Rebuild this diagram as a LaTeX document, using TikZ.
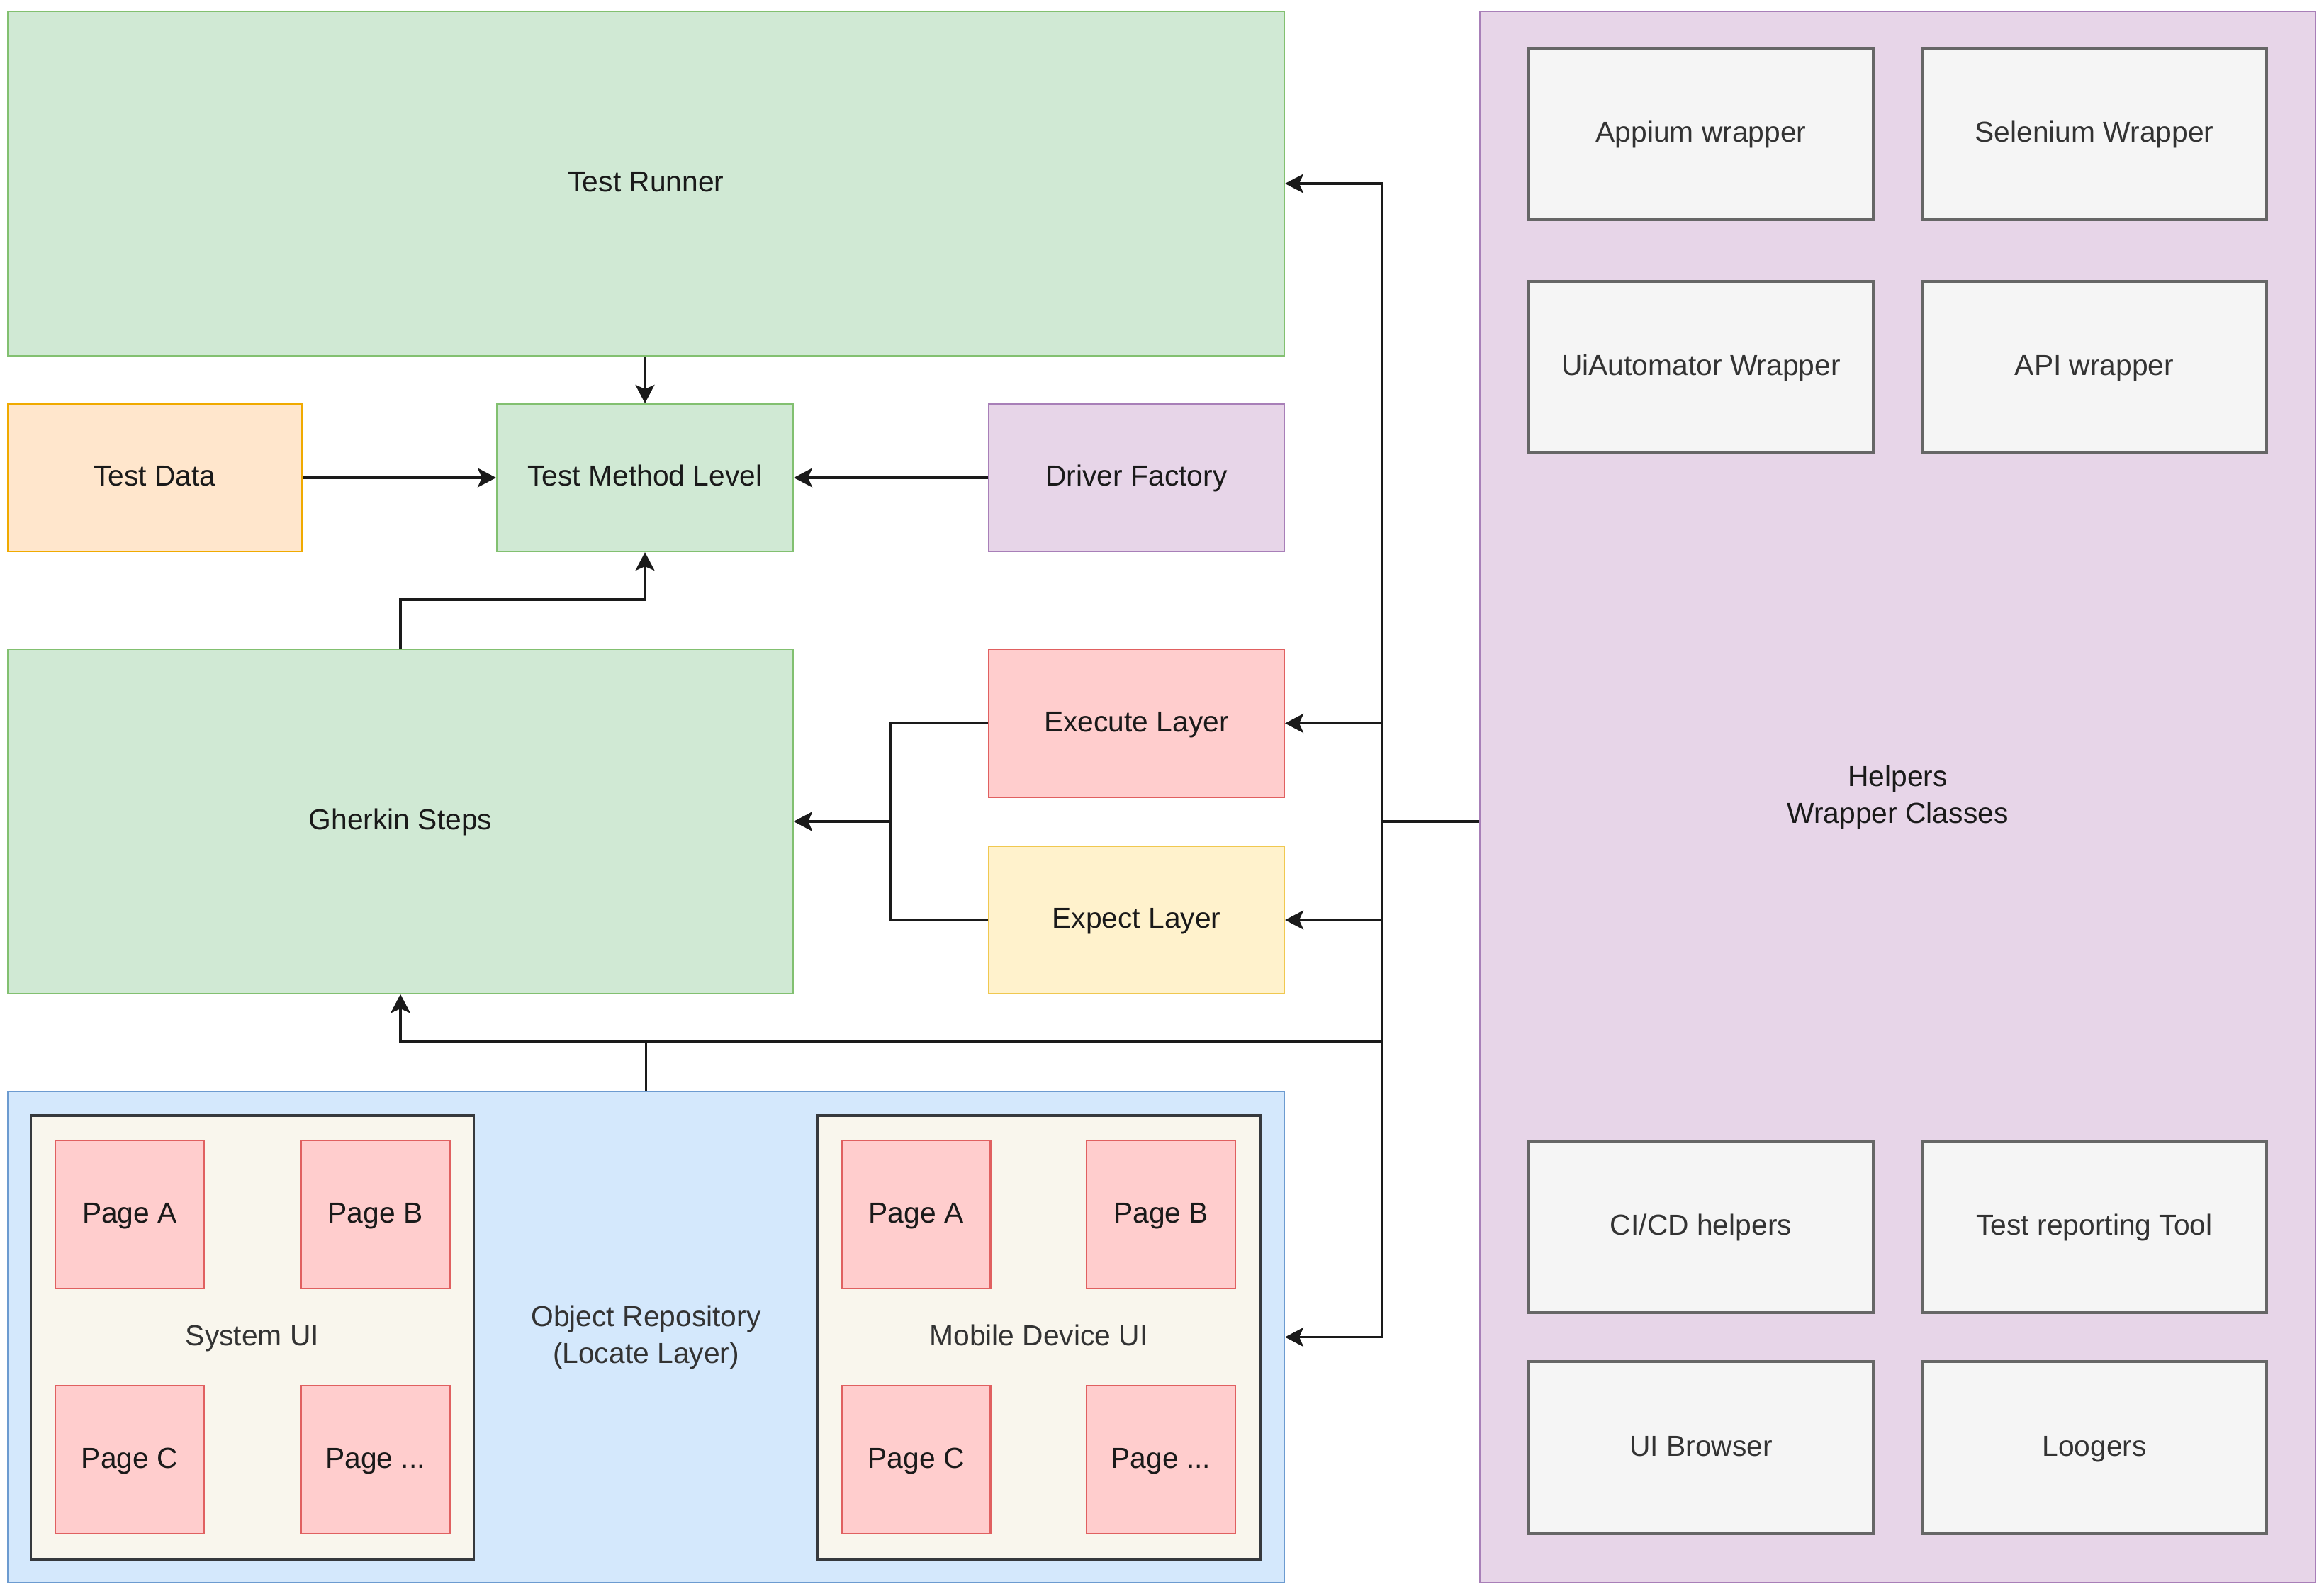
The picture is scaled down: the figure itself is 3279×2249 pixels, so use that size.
\documentclass[tikz,border=0pt]{standalone}
\usepackage{fontspec}
\setmainfont{Liberation Sans}
\usetikzlibrary{arrows.meta}
\definecolor{gfill}{HTML}{D0E9D4}
\definecolor{gline}{HTML}{82C070}
\definecolor{ofill}{HTML}{FFE6CC}
\definecolor{oline}{HTML}{F0AA00}
\definecolor{pfill}{HTML}{E7D5E8}
\definecolor{pline}{HTML}{A87FB8}
\definecolor{rfill}{HTML}{FFCDCD}
\definecolor{rline}{HTML}{E06060}
\definecolor{yfill}{HTML}{FFF2CC}
\definecolor{yline}{HTML}{F0C850}
\definecolor{bfill}{HTML}{D4E8FC}
\definecolor{bline}{HTML}{6C9BD0}
\definecolor{kfill}{HTML}{F5F5F5}
\definecolor{kline}{HTML}{666666}
\definecolor{ktext}{HTML}{333333}
\definecolor{sfill}{HTML}{F9F6ED}
\definecolor{sline}{HTML}{36393D}
\definecolor{txt}{HTML}{1A1A1A}
\tikzset{
  sz/.style 2 args={minimum width=#1*0.01cm, minimum height=#2*0.01cm},
  boxbase/.style={rectangle, inner sep=0pt, align=center, text=txt,
    font=\fontsize{11.6}{14.8}\selectfont, line width=0.6pt,
    text height=9pt, text depth=2.4pt},
  twolines/.style={text height={}, text depth={}},
  gbox/.style={boxbase, fill=gfill, draw=gline},
  obox/.style={boxbase, fill=ofill, draw=oline},
  pbox/.style={boxbase, fill=pfill, draw=pline},
  rbox/.style={boxbase, fill=rfill, draw=rline},
  ybox/.style={boxbase, fill=yfill, draw=yline},
  bbox/.style={boxbase, fill=bfill, draw=bline},
  kbox/.style={boxbase, fill=kfill, draw=kline, line width=0.9pt, text=ktext},
  sbox/.style={boxbase, fill=sfill, draw=sline, line width=0.9pt, text=ktext},
  conn/.style={draw=txt, line width=0.9pt},
  arr/.style={conn, -{Stealth[length=0.26cm, width=0.27cm, inset=0.06cm]}},
}
\begin{document}
\begin{tikzpicture}[x=0.01cm, y=-0.01cm]
\useasboundingbox[fill=white] (0,0) rectangle (3279,2249);

% left column
\node[gbox, sz={1801}{486}] (tr) at (911.5,259) {Test Runner};
\node[obox, sz={415}{208}] (td) at (218.5,674) {Test Data};
\node[gbox, sz={418}{208}] (tml) at (910,674) {Test Method Level};
\node[pbox, sz={417}{208}] (df) at (1603.5,674) {Driver Factory};
\node[gbox, sz={1108}{486}] (gh) at (565,1159) {Gherkin Steps};
\node[rbox, sz={417}{209}] (exe) at (1603.5,1020.5) {Execute Layer};
\node[ybox, sz={417}{208}] (exp) at (1603.5,1298) {Expect Layer};

% object repository
\node[bbox, twolines, sz={1801}{693}, text=ktext] (or) at (911.5,1886.5) {Object Repository\\(Locate Layer)};
\node[sbox, sz={625}{626}] (sys) at (356,1887) {System UI};
\node[sbox, sz={625}{626}] (mob) at (1465.5,1887) {Mobile Device UI};
\node[rbox, sz={210}{209}] (sa) at (183,1713.5) {Page A};
\node[rbox, sz={210}{209}] (sb) at (529.5,1713.5) {Page B};
\node[rbox, sz={210}{209}] (sc) at (183,2059.5) {Page C};
\node[rbox, sz={210}{209}] (sd) at (529.5,2059.5) {Page ...};
\node[rbox, sz={210}{209}] (ma) at (1292.5,1713.5) {Page A};
\node[rbox, sz={210}{209}] (mb) at (1638,1713.5) {Page B};
\node[rbox, sz={210}{209}] (mc) at (1292.5,2059.5) {Page C};
\node[rbox, sz={210}{209}] (md) at (1638,2059.5) {Page ...};

% helpers
\node[pbox, twolines, sz={1179}{2217}] (help) at (2677.5,1124.5) {Helpers\\Wrapper Classes};
\node[kbox, sz={486}{242}] (h1) at (2400,189) {Appium wrapper};
\node[kbox, sz={486}{242}] (h2) at (2955,189) {Selenium Wrapper};
\node[kbox, sz={486}{242}] (h3) at (2400,518) {UiAutomator Wrapper};
\node[kbox, sz={486}{242}] (h4) at (2955,518) {API wrapper};
\node[kbox, sz={486}{242}] (h5) at (2400,1731) {CI/CD helpers};
\node[kbox, sz={486}{242}] (h6) at (2955,1731) {Test reporting Tool};
\node[kbox, sz={486}{243}] (h7) at (2400,2042.5) {UI Browser};
\node[kbox, sz={486}{243}] (h8) at (2955,2042.5) {Loogers};

% connectors
\coordinate (j) at (1950,1159);
\coordinate (k) at (1950,1470);
\coordinate (m) at (1257,1159);

\draw[arr] (tml.north |- tr.south) -- (tml.north);
\draw[arr] (td.east) -- (tml.west);
\draw[arr] (df.west) -- (tml.east);
\draw[arr] (gh.north) -- ++(0,-69) -| (tml.south);

\draw[arr] (exe.west) -| (m) -- (gh.east);
\draw[arr] (exp.west) -| (m) -- (gh.east);

\draw[conn] (help.west |- j) -- (j);
\draw[arr] (j) |- (tr.east);
\draw[arr] (j) |- (exe.east);
\draw[arr] (j) |- (exp.east);
\draw[arr] (j) |- (or.east);
\draw[arr] (j) -- (k) -| (gh.south);
\draw[arr] (or.north) -- (or.north |- k) -| (gh.south);
\end{tikzpicture}
\end{document}
